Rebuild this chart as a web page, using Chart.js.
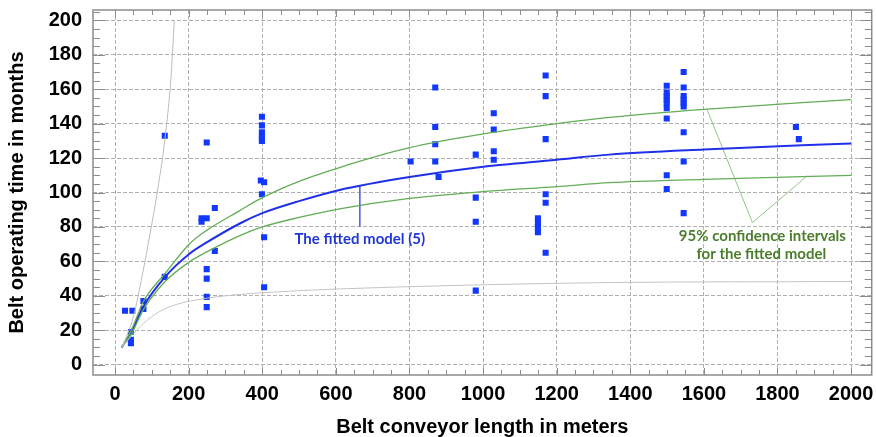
<!DOCTYPE html>
<html>
<head>
<meta charset="utf-8">
<script src="https://cdn.jsdelivr.net/npm/chart.js@4.4.0/dist/chart.umd.min.js"></script>
<style>
  html, body { margin: 0; padding: 0; background: #fff; }
  #wrap { width: 876px; height: 437px; }
</style>
</head>
<body>
<div id="wrap"><canvas id="chart"></canvas></div>
<script>
// observed belts: conveyor length (m) and operating time (months)
const beltLength = [27, 47, 43, 43, 43, 77, 77, 135, 135, 249, 235, 235, 249, 271, 271, 249, 249, 249, 249,
    399, 399, 399, 399, 399, 399, 396, 405, 399, 405, 405,
    870, 870, 870, 870, 803, 879, 980, 980, 980, 980, 1029, 1029, 1029, 1029,
    1170, 1170, 1170, 1170, 1170, 1149, 1149, 1149, 1149, 1170,
    1499, 1499, 1499, 1499, 1499, 1499, 1499, 1499, 1499,
    1545, 1545, 1545, 1545, 1545, 1545, 1545, 1545, 1545, 1850, 1858];
const beltMonths = [31.3, 31.3, 19, 14.5, 12.5, 37, 32.3, 133, 51, 129, 85, 83, 85, 91, 66, 55.5, 50, 39.4, 33.4,
    144, 139, 135, 133, 131, 130, 107, 106, 99, 74, 45,
    161, 138, 128, 118, 118, 109, 122, 97, 83, 43, 146, 136.6, 124, 119,
    168, 156, 131, 99, 94, 85, 82.5, 80, 77, 65,
    162, 158, 156, 154, 152, 149, 143, 110, 102,
    170, 161, 156, 154, 152, 150, 135, 118, 88, 138, 131];

// fitted model and its 95% confidence band, read at these lengths
const curveLength = [18, 45, 77, 136, 204, 249, 339, 400, 500, 610, 800, 1000, 1200, 1343, 1600, 2000];
const fittedModel = [10, 19.3, 33.8, 51, 64.7, 71, 82, 88, 95, 101.5, 109, 115, 119, 122, 125, 128.5];
const upperCI = [10, 20.5, 36.7, 53, 70.5, 78, 89.5, 97, 106.5, 114.5, 126, 134, 140, 143.6, 148.3, 154];
const lowerCI = [10, 18, 32, 48.3, 60, 65.5, 75, 80, 85.5, 90.5, 96.6, 100.5, 103.4, 105.7, 107.6, 110];

// grey bounding curves
const steepLength = [20, 50, 74, 95, 113, 136, 152, 157, 161];
const steepMonths = [10.6, 28, 52, 76, 98, 132, 167, 185, 200];
const flatLength = [18, 50, 77, 122, 167, 249, 339, 400, 610, 1000, 1343, 2000];
const flatMonths = [10, 18, 24, 31, 35, 38.6, 40.8, 41.8, 44, 46.4, 47.7, 48.3];

// leader lines of the two notes
const fitLeaderX = [665, 665];
const fitLeaderY = [104.3, 80.2];
const ciLeaderX = [1608, 1732, 1881];
const ciLeaderY = [148.5, 82.5, 109.7];

const xTicks = [0, 200, 400, 600, 800, 1000, 1200, 1400, 1600, 1800, 2000];
const yTicks = [0, 20, 40, 60, 80, 100, 120, 140, 160, 180, 200];

const notes = [
    { text: 'The fitted model (5)', x: 665, y: 73, color: '#2136d6' },
    { text: '95% confidence intervals', x: 1759, y: 74.8, color: '#4b7d2c' },
    { text: 'for the fitted model', x: 1756, y: 64.2, color: '#4b7d2c' }
];

const pts = (xs, ys) => xs.map((x, i) => ({ x: x, y: ys[i] }));

function lineSet(xs, ys, color, width, smooth) {
    return {
        type: 'line',
        data: pts(xs, ys),
        borderColor: color,
        borderWidth: width,
        pointRadius: 0,
        fill: false,
        tension: 0,
        cubicInterpolationMode: smooth ? 'monotone' : 'default',
        showLine: true
    };
}

// frame with inward ticks on all four sides + the text notes
const framePlugin = {
    id: 'frame',
    beforeDatasetsDraw(chart) {
        const { ctx, chartArea: a, scales: { x, y } } = chart;
        ctx.save();
        ctx.strokeStyle = '#8c8c8c';
        ctx.lineWidth = 1.5;
        ctx.strokeRect(a.left, a.top, a.right - a.left, a.bottom - a.top);
        ctx.lineWidth = 1;
        ctx.beginPath();
        for (let v = 0; v <= 2000; v += 50) {
            const px = Math.round(x.getPixelForValue(v)) + 0.5;
            const len = v % 200 === 0 ? 7 : 5;
            ctx.moveTo(px, a.bottom); ctx.lineTo(px, a.bottom - len);
            ctx.moveTo(px, a.top); ctx.lineTo(px, a.top + len);
        }
        for (let v = 0; v <= 205; v += 5) {
            const py = Math.round(y.getPixelForValue(v)) + 0.5;
            const len = v % 20 === 0 ? 12 : 7;
            ctx.moveTo(a.left, py); ctx.lineTo(a.left + len, py);
            ctx.moveTo(a.right, py); ctx.lineTo(a.right - len, py);
        }
        ctx.stroke();
        ctx.restore();
    },
    afterDatasetsDraw(chart) {
        const { ctx, scales: { x, y } } = chart;
        ctx.save();
        ctx.font = 'bold 15px Lato';
        ctx.textAlign = 'center';
        ctx.textBaseline = 'middle';
        notes.forEach(n => {
            ctx.fillStyle = n.color;
            ctx.fillText(n.text, x.getPixelForValue(n.x), y.getPixelForValue(n.y));
        });
        ctx.restore();
    }
};

const tickFont = { family: 'Liberation Sans, Arial', size: 20, weight: 'bold' };
const titleFont = { family: 'Liberation Sans, Arial', size: 20, weight: 'bold', lineHeight: 1 };

new Chart(document.getElementById('chart'), {
    type: 'scatter',
    data: {
        datasets: [
            lineSet(steepLength, steepMonths, '#bdbdbd', 1, true),
            lineSet(flatLength, flatMonths, '#c4c4c4', 1, true),
            lineSet(curveLength, upperCI, '#62ad55', 1.3, true),
            lineSet(curveLength, lowerCI, '#62ad55', 1.3, true),
            lineSet(curveLength, fittedModel, '#2030e6', 2, true),
            lineSet(fitLeaderX, fitLeaderY, '#5866e0', 1, false),
            lineSet(ciLeaderX, ciLeaderY, '#93c487', 1, false),
            {
                data: pts(beltLength, beltMonths),
                backgroundColor: '#1238ff',
                borderWidth: 0,
                pointStyle: 'rect',
                pointRadius: 4.3,
                showLine: false
            }
        ]
    },
    options: {
        responsive: true,
        maintainAspectRatio: false,
        animation: false,
        layout: { padding: { top: 10, right: 3, left: 0, bottom: 0 } },
        plugins: {
            legend: { display: false },
            tooltip: { enabled: false }
        },
        scales: {
            x: {
                type: 'linear',
                min: -60,
                max: 2056,
                afterBuildTicks: s => { s.ticks = xTicks.map(v => ({ value: v })); },
                afterFit: s => { s.height = 62; s.paddingLeft = 0; s.paddingRight = 0; },
                ticks: { font: tickFont, color: '#000', padding: 7, maxRotation: 0, callback: v => String(v) },
                grid: { color: '#b0b0b0', lineWidth: 1, drawTicks: false },
                border: { display: false, dash: [4, 2] },
                title: {
                    display: true,
                    text: 'Belt conveyor length in meters',
                    font: titleFont,
                    color: '#000',
                    padding: { top: 0, bottom: 0 }
                }
            },
            y: {
                type: 'linear',
                min: -6,
                max: 206,
                afterBuildTicks: s => { s.ticks = yTicks.map(v => ({ value: v })); },
                afterFit: s => { s.width = 93; s.paddingTop = 0; s.paddingBottom = 0; },
                ticks: { font: tickFont, color: '#000', padding: 11, callback: v => String(v) },
                grid: { color: '#b0b0b0', lineWidth: 1, drawTicks: false },
                border: { display: false, dash: [4, 2] },
                title: {
                    display: true,
                    text: 'Belt operating time in months',
                    font: titleFont,
                    color: '#000',
                    padding: { top: 7, bottom: 0 }
                }
            }
        }
    },
    plugins: [framePlugin]
});
</script>
</body>
</html>
